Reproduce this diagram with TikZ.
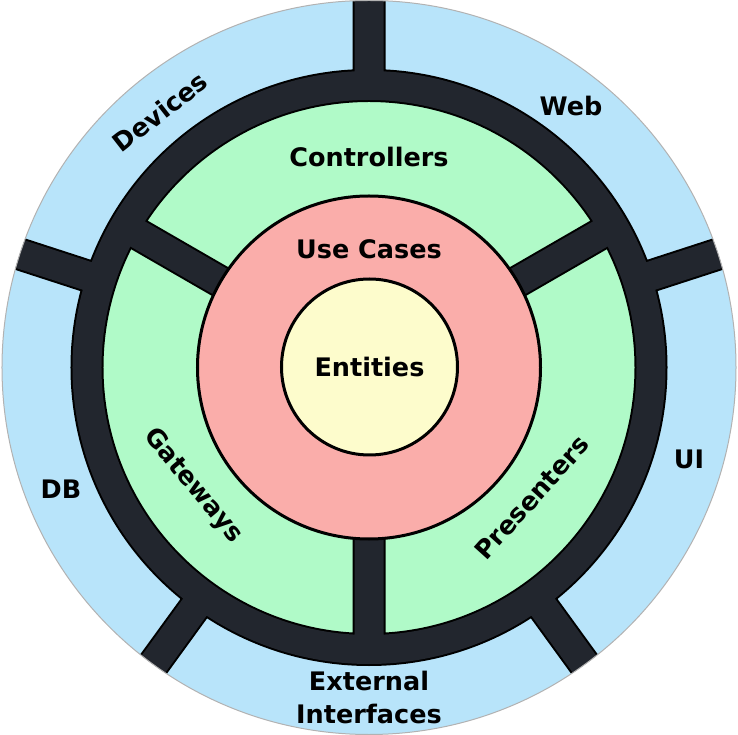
\documentclass[tikz,border=0pt]{standalone}
\usepackage{fontspec}
\newfontfamily\ringfont{DejaVu Sans}
\usepackage{tikz}
\definecolor{outerblue}{RGB}{184,228,250}
\definecolor{adaptergreen}{RGB}{176,250,200}
\definecolor{usecasered}{RGB}{250,173,170}
\definecolor{entityyellow}{RGB}{253,252,204}
\definecolor{bardark}{RGB}{34,38,46}
\tikzset{
  layerlabel/.style={
    font=\ringfont\bfseries\fontsize{25.5}{33}\selectfont,
    align=center, inner sep=0pt
  },
  ringbars/.style={
    draw=bardark, line width=29pt,
    preaction={draw=black, line width=33pt}
  },
  coredisk/.style={
    circle, draw=black, line width=3pt, inner sep=0pt
  },
}

\begin{document}
\begin{tikzpicture}[x=1pt, y=1pt]
  \useasboundingbox (-369,-367.5) rectangle (369,367.5);

  % Frameworks and drivers, interface adapters
  \begin{scope}
    \clip (0,0) circle[radius=367];
    \fill[outerblue] (0,0) circle[radius=367];
    \fill[adaptergreen] (0,0) circle[radius=282];
    % Dark ring with its spokes
    \draw[ringbars] (0,0) circle[radius=282]
      (90:282) -- (90:390)
      (162:282) -- (162:390)
      (234:282) -- (234:390)
      (306:282) -- (306:390)
      (18:282) -- (18:390)
      (30:150) -- (30:282)
      (150:150) -- (150:282)
      (270:150) -- (270:282);
  \end{scope}
  \draw[gray!60, line width=1pt] (0,0) circle[radius=367];

  % Use cases
  \node[coredisk, fill=usecasered, minimum size=343pt] (usecases) at (0,0) {};
  \node[layerlabel] (usecaselabel) at (0,118.5) {Use Cases};

  % Entities
  \node[coredisk, fill=entityyellow, minimum size=176pt,
    layerlabel] (entities) at (0.5,0.5) {Entities};

  % Interface adapters
  \node[layerlabel] (controllers) at (0,210.5) {Controllers};
  \node[layerlabel, rotate=-50] (gateways) at (-176,-118.5) {Gateways};
  \node[layerlabel, rotate=48] (presenters) at (163,-130) {Presenters};

  % Frameworks and drivers
  \node[layerlabel, rotate=38] (devices) at (-209,255.5) {Devices};
  \node[layerlabel] (web) at (202,261.5) {Web};
  \node[layerlabel] (ui) at (320,-91.5) {UI};
  \node[layerlabel] (db) at (-308,-121.5) {DB};
  \node[layerlabel] (external) at (0,-330) {External\\Interfaces};
\end{tikzpicture}
\end{document}
